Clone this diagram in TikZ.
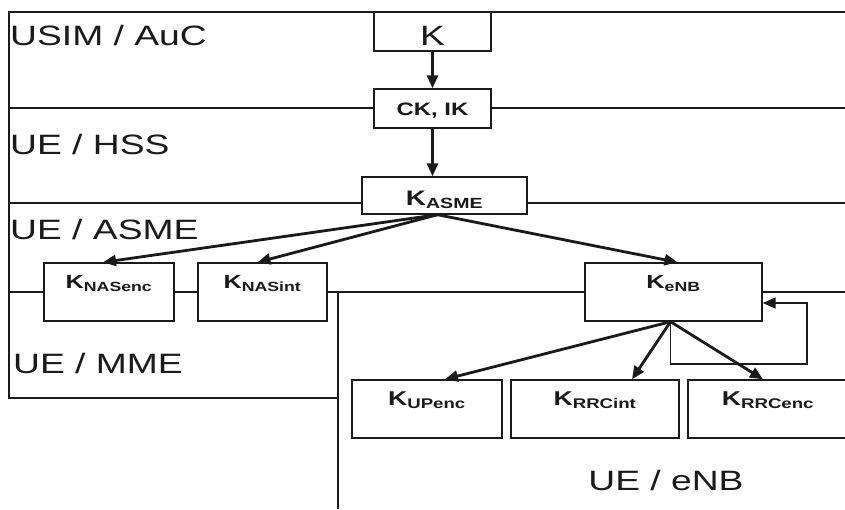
\documentclass[tikz,border=0pt]{standalone}
\usepackage{fontspec}
\setmainfont{Liberation Sans}[FakeStretch=1.33]
\usetikzlibrary{arrows.meta}
\definecolor{ink}{HTML}{1A1A1A}
\newcommand{\kkey}[1]{K\textsubscript{#1}}

\begin{document}
\begin{tikzpicture}[x=1pt,y=-1pt,
  keybox/.style={draw=ink,fill=white,line width=1.4pt,inner sep=0pt,text=ink,font=\bfseries\fontsize{19}{19}\selectfont},
  subkey/.style={keybox,minimum height=58pt,text height=8pt,text depth=16pt},
  zone/.style={ink,line width=1.4pt},
  zonelbl/.style={font=\fontsize{28}{28}\selectfont,text=ink,inner sep=0pt},
  keyarrow/.style={-{Triangle[length=13pt,width=11pt]},line width=2.8pt,ink}]
  \useasboundingbox[fill=white] (0,0) rectangle (845,509);

  % ===== zone frames =====
  \draw[zone] (845,12) -- (9,12) -- (9,398) -- (338,398);
  \draw[zone] (9,108) -- (845,108);
  \draw[zone] (9,203) -- (845,203);
  \draw[zone] (9,292) -- (845,292);
  \draw[zone] (338,292) -- (338,509);
  \node[zonelbl,anchor=west] (lusim) at (10,35) {USIM / AuC};
  \node[zonelbl,anchor=west] (lhss) at (10,144) {UE / HSS};
  \node[zonelbl,anchor=west] (lasme) at (10,229) {UE / ASME};
  \node[zonelbl,anchor=west] (lmme) at (13,363) {UE / MME};
  \node[zonelbl] (lenb) at (666,480) {UE / eNB};

  % ===== keys =====
  \node[keybox,font=\fontsize{28}{28}\selectfont,minimum width=117pt,minimum height=39pt,text height=27pt,text depth=0pt] (k) at (432.5,31.5) {K};
  \node[keybox,font=\bfseries\fontsize{18}{18}\selectfont,minimum width=117pt,minimum height=39pt,text height=13pt,text depth=0pt] (ckik) at (432.5,108.5) {CK, IK};
  \node[keybox,font=\bfseries\fontsize{21}{21}\selectfont,minimum width=165pt,minimum height=37pt,text height=20pt,text depth=0pt] (kasme) at (444.5,195.5) {\kkey{ASME}};
  \node[subkey,minimum width=130pt] (knasenc) at (109,292) {\kkey{NASenc}};
  \node[subkey,minimum width=129pt] (knasint) at (262.5,292) {\kkey{NASint}};
  \node[subkey,minimum width=177pt] (kenb) at (673.5,292) {\kkey{eNB}};
  \node[subkey,font=\bfseries\fontsize{20}{20}\selectfont,minimum width=150pt] (kupenc) at (427,409) {\kkey{UPenc}};
  \node[subkey,font=\bfseries\fontsize{20}{20}\selectfont,minimum width=168pt] (krrcint) at (595,409) {\kkey{RRCint}};
  \node[subkey,font=\bfseries\fontsize{20}{20}\selectfont,minimum width=160pt] (krrcenc) at (768,409) {\kkey{RRCenc}};

  % ===== derivation arrows =====
  \draw[keyarrow] (k) -- (ckik);
  \draw[keyarrow] (ckik) -- (ckik |- kasme.north);
  \draw[keyarrow] ([xshift=-7pt]kasme.south) -- ([xshift=-6pt]knasenc.north);
  \draw[keyarrow] ([xshift=-7pt]kasme.south) -- ([xshift=-5pt]knasint.north);
  \draw[keyarrow] ([xshift=-7pt]kasme.south) -- ([xshift=4pt]kenb.north);
  \draw[keyarrow] ([xshift=-3pt]kenb.south) -- ([xshift=18pt]kupenc.north);
  \draw[keyarrow] ([xshift=-3pt]kenb.south) -- ([xshift=37pt]krrcint.north);
  \draw[keyarrow] ([xshift=-3pt]kenb.south) -- ([xshift=-5pt]krrcenc.north);

  % ===== refresh loop =====
  \coordinate (loop) at (807,364);
  \draw[keyarrow,line width=1.8pt] ([xshift=-3pt]kenb.south) |- (loop) |- ([yshift=-11pt]kenb.east);
\end{tikzpicture}
\end{document}
